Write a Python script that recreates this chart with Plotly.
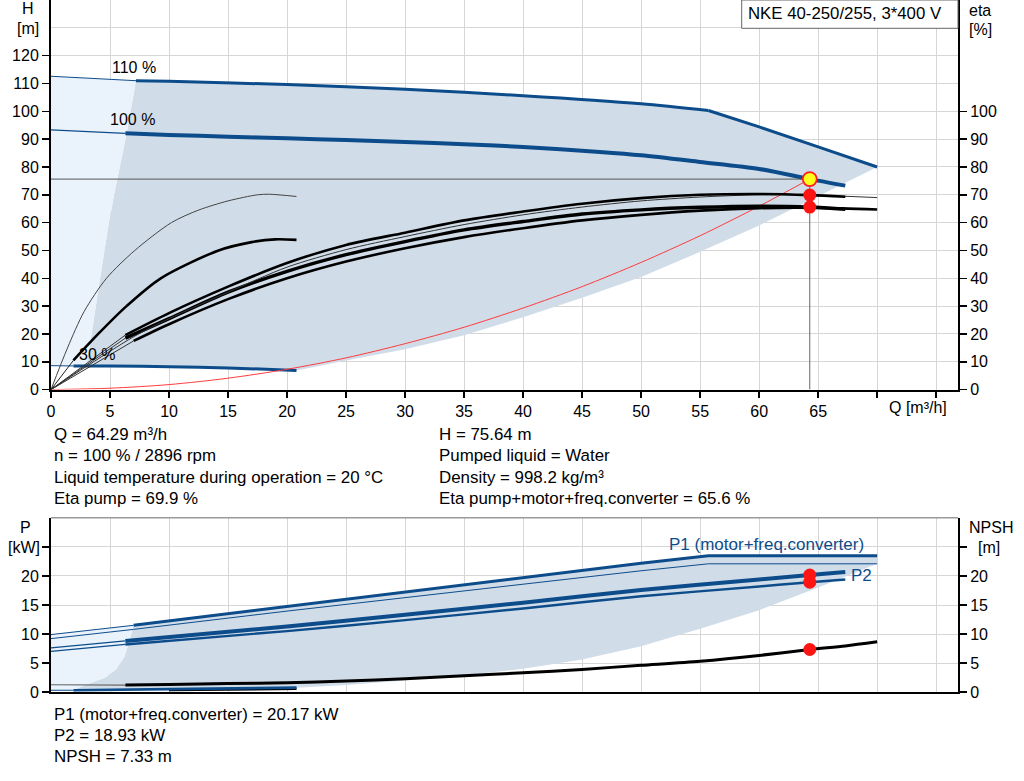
import numpy as np
import plotly.graph_objects as go

# ------------------------------------------------------------------ data
Q_TICKS = [0, 5, 10, 15, 20, 25, 30, 35, 40, 45, 50, 55, 60, 65, 70, 75]
Q_TICK_TEXT = ["0", "5", "10", "15", "20", "25", "30", "35", "40", "45", "50", "55", "60", "65", "", ""]
H_TICKS = [0, 10, 20, 30, 40, 50, 60, 70, 80, 90, 100, 110, 120]
ETA_TICKS = [0, 10, 20, 30, 40, 50, 60, 70, 80, 90, 100]
P_TICKS = [0, 5, 10, 15, 20, 25]
P_TICK_TEXT = ["0", "5", "10", "15", "20", ""]

# head curves (speed 110 %, 100 %, 30 %)
Q_110 = [0, 7.2, 10, 20, 30, 40, 50, 55.7, 60, 65, 70]
H_110 = [112.6, 111.0, 110.8, 109.6, 107.9, 105.6, 102.7, 100.3, 94.4, 87.2, 80.0]
Q_100 = [0, 6.3, 10, 15, 20, 25, 30, 35, 40, 46.5, 50, 55, 60, 64.29, 67.3]
H_100 = [93.3, 92.1, 91.5, 90.9, 90.3, 89.7, 89.0, 88.2, 87.2, 85.4, 84.2, 81.8, 79.3, 75.64, 73.3]
Q_30 = [0, 1.9, 5, 10, 15, 20.8]
H_30 = [8.6, 8.5, 8.45, 8.25, 7.8, 6.9]

# working-area boundaries (head)
LB_Q = [20.8, 25, 30, 35, 40, 45, 50, 55, 60, 65, 70]
LB_H = [6.9, 10.5, 14.5, 19.5, 26.0, 33.0, 40.5, 49.5, 59.0, 69.5, 80.0]
LD_Q = [3.0, 3.45, 3.8, 4.15, 4.5, 4.9, 5.35, 5.85, 6.45, 7.2]
LD_H = [8.47, 20, 30, 40, 50, 60, 70, 80, 93, 111.0]

# system curve
Q_SYS = [0, 5, 10, 15, 20, 25, 30, 35, 40, 45, 50, 55, 60, 64.29]
H_SYS = [0, 0.5, 1.8, 4.1, 7.3, 11.4, 16.5, 22.4, 29.3, 37.0, 45.7, 55.3, 65.9, 75.64]

# efficiency curves
Q_EA = [0, 6.3, 10, 15, 20, 25, 30, 35, 40, 45, 50, 55, 60, 64.29, 67.3]
ETA_A = [0, 19.6, 27.5, 37.0, 45.5, 52.0, 56.4, 60.8, 64.0, 66.8, 68.8, 70.0, 70.3, 69.9, 69.3]
Q_EB = [0, 7, 10, 15, 20, 25, 30, 35, 40, 45, 50, 55, 60, 64.29, 70]
ETA_B = [0, 19.0, 25.5, 35.0, 44.0, 50.3, 55.0, 59.3, 62.8, 65.6, 67.8, 69.2, 70.0, 69.9, 69.0]
Q_EC = [0, 6.3, 10, 15, 20, 25, 30, 35, 40, 45, 50, 55, 60, 64.29, 67.3]
ETA_C = [0, 18.5, 25.5, 35.0, 42.5, 48.5, 53.2, 57.4, 60.4, 63.1, 64.6, 65.5, 65.9, 65.6, 64.8]
Q_ED = [0, 7, 10, 15, 20, 25, 30, 35, 40, 45, 50, 55, 60, 65, 70]
ETA_D = [0, 17.5, 23.5, 32.5, 40.0, 46.0, 50.8, 54.8, 58.0, 60.8, 62.8, 64.3, 65.2, 65.3, 64.7]
Q_EE = [0, 1.4, 2.8, 4.7, 7.1, 10.2, 12.5, 15, 17.5, 18.5, 20.8]
ETA_E = [0, 15, 28, 40, 50, 60, 64.5, 67.8, 70.0, 70.2, 69.4]
Q_EF = [0, 1.9, 4, 6.4, 9.3, 14.2, 17, 19, 20.8]
ETA_F = [0, 10.5, 20, 30, 40, 50, 53, 54, 53.8]

# power / NPSH curves
Q_P1_110 = [0, 7.0, 20, 30, 40, 50, 55.7, 70]
P1_110 = [9.9, 11.5, 14.75, 17.25, 19.75, 22.2, 23.5, 23.5]
Q_P2_110 = [0, 7.0, 20, 30, 40, 50, 55.7, 70]
P2_110 = [9.2, 10.8, 13.95, 16.3, 18.6, 20.9, 22.1, 22.1]
Q_P100 = [0, 6.3, 20, 30, 40, 50, 60, 64.29, 67.3]
P1_100 = [7.6, 8.8, 11.3, 13.3, 15.4, 17.6, 19.4, 20.17, 20.7]
P2_100 = [7.0, 8.2, 10.5, 12.4, 14.4, 16.5, 18.2, 18.93, 19.4]
Q_P30 = [0, 1.9, 10, 20.8]
P_30 = [0.3, 0.3, 0.5, 0.75]
Q_P30B = [10, 20.8]
P_30B = [0.35, 0.55]
Q_NPSH = [0, 6.3, 10, 15, 20, 25, 30, 35, 40, 45, 50, 55, 60, 64.29, 67.3, 70]
NPSH = [1.25, 1.2, 1.3, 1.45, 1.6, 1.9, 2.3, 2.8, 3.3, 3.9, 4.6, 5.3, 6.3, 7.33, 7.95, 8.65]

# working-area boundaries (power)
LBP_Q = [20.8, 25, 30, 35, 40, 45, 50, 55, 60, 65, 70]
LBP_P = [0.75, 1.2, 2.0, 2.9, 4.0, 5.6, 7.9, 10.9, 14.1, 18.0, 22.1]
LDP_Q = [1.9, 2.5, 3.5, 4.6, 5.5, 6.2, 6.6, 7.0]
LDP_P = [0.3, 0.9, 1.6, 2.5, 3.9, 6.0, 8.5, 11.5]

# duty point
Q_DUTY = 64.29
H_DUTY = 75.64
ETA_PUMP = 69.9
ETA_TOTAL = 65.6
P1_DUTY = 20.17
P2_DUTY = 18.93
NPSH_DUTY = 7.33

INFO_LEFT = ["Q = 64.29 m³/h", "n = 100 % / 2896 rpm",
             "Liquid temperature during operation = 20 °C", "Eta pump = 69.9 %"]
INFO_RIGHT = ["H = 75.64 m", "Pumped liquid = Water", "Density = 998.2 kg/m³",
              "Eta pump+motor+freq.converter = 65.6 %"]
INFO_BOTTOM = ["P1 (motor+freq.converter) = 20.17 kW", "P2 = 18.93 kW", "NPSH = 7.33 m"]
TITLE = "NKE 40-250/255, 3*400 V"

# ------------------------------------------------------------------ style
W, H = 1024, 781
ML, MR, MT, MB = 51, 66, 0, 89
PW, PH = W - ML - MR, H - MT - MB
FONT = "Arial, 'Liberation Sans', sans-serif"
FS = 16
FS_INFO = 16.9
BLUE = "#0d4c8b"
DARK_FILL = "#d0dce8"
LIGHT_FILL = "#eaf3fc"
GRID = "#d6d6d6"
Q_RANGE = [0, 76.85]
H_RANGE = [0, 140]
P_RANGE = [0, 30.05]


def px(x):
    return (x - ML) / PW


def py(y):
    return (H - MB - y) / PH


fig = go.Figure()


def line(xs, ys, color, width, xa="x", ya="y", smooth=True):
    fig.add_trace(go.Scatter(x=xs, y=ys, mode="lines", xaxis=xa, yaxis=ya,
                             line=dict(color=color, width=width,
                                       shape="spline" if smooth else "linear",
                                       smoothing=0.8),
                             hoverinfo="skip", showlegend=False))


def fill(xs, ys, color, xa="x", ya="y"):
    fig.add_trace(go.Scatter(x=xs, y=ys, mode="lines", fill="toself", fillcolor=color,
                             line=dict(width=0, color=color), xaxis=xa, yaxis=ya,
                             hoverinfo="skip", showlegend=False))


# ---------------- top panel: areas
q30_mid = [q for q in Q_30[::-1] if LD_Q[0] < q < LB_Q[0]]
h30_mid = [H_30[Q_30.index(q)] for q in q30_mid]
dark_q = Q_110[1:] + LB_Q[::-1] + q30_mid + LD_Q
dark_h = H_110[1:] + LB_H[::-1] + h30_mid + LD_H
fill(dark_q, dark_h, DARK_FILL)

q30_low = [q for q in Q_30 if q < LD_Q[0]]
h30_low = [H_30[Q_30.index(q)] for q in q30_low]
q110_low = [q for q in Q_110[::-1] if q < LD_Q[-1]]
h110_low = [H_110[Q_110.index(q)] for q in q110_low]
fill(q30_low + LD_Q + q110_low, h30_low + LD_H + h110_low, LIGHT_FILL)

# ---------------- top panel: curves
k = Q_110.index(55.7)
line(Q_110[:2], H_110[:2], BLUE, 1, smooth=False)
line(Q_110[1:k + 1], H_110[1:k + 1], BLUE, 3)
line(Q_110[k:], H_110[k:], BLUE, 3, smooth=False)
line(Q_100[:2], H_100[:2], BLUE, 1.2, smooth=False)
line(Q_100[1:], H_100[1:], BLUE, 4)
line(Q_30[:2], H_30[:2], BLUE, 1, smooth=False)
line(Q_30[1:], H_30[1:], BLUE, 3)

line(Q_SYS, H_SYS, "#ff3b3b", 1)
line([0, Q_DUTY], [H_DUTY, H_DUTY], "#555555", 1, smooth=False)
line([Q_DUTY, Q_DUTY], [H_DUTY, 0], "#666666", 1, smooth=False)

# efficiency curves (right axis)
line(Q_EE, ETA_E, "#444444", 1, ya="y2")
line(Q_EF[:2], ETA_F[:2], "#222222", 1, ya="y2", smooth=False)
line(Q_EF[1:], ETA_F[1:], "black", 2.6, ya="y2")
line(Q_ED[:2], ETA_D[:2], "#333333", 1, ya="y2", smooth=False)
line(Q_ED[1:], ETA_D[1:], "black", 2.6, ya="y2")
line(Q_EC[:2], ETA_C[:2], "#333333", 1, ya="y2", smooth=False)
line(Q_EC[1:], ETA_C[1:], "black", 3.4, ya="y2")
line(Q_EB, ETA_B, "#333333", 1, ya="y2")
line(Q_EA[:2], ETA_A[:2], "#333333", 1, ya="y2", smooth=False)
line(Q_EA[1:], ETA_A[1:], "black", 2.6, ya="y2")

# duty point markers
fig.add_trace(go.Scatter(x=[Q_DUTY, Q_DUTY], y=[ETA_PUMP, ETA_TOTAL], mode="markers",
                         xaxis="x", yaxis="y2", hoverinfo="skip", showlegend=False,
                         marker=dict(size=13, color="#ff1414", line=dict(width=0))))
fig.add_trace(go.Scatter(x=[Q_DUTY], y=[H_DUTY], mode="markers", xaxis="x", yaxis="y",
                         hoverinfo="skip", showlegend=False,
                         marker=dict(size=14, color="#ffff1e",
                                     line=dict(width=1.8, color="#ff2020"))))

# ---------------- bottom panel: areas
qp30_mid = [q for q in Q_P30[::-1] if LDP_Q[0] < q < LBP_Q[0]]
pp30_mid = [P_30[Q_P30.index(q)] for q in qp30_mid]
dq = Q_P1_110[1:] + [Q_P2_110[-1]] + LBP_Q[::-1][1:] + qp30_mid + LDP_Q
dp = P1_110[1:] + [P2_110[-1]] + LBP_P[::-1][1:] + pp30_mid + LDP_P
fill(dq, dp, DARK_FILL, "x2", "y3")
qp30_low = [q for q in Q_P30 if q < LDP_Q[0]]
pp30_low = [P_30[Q_P30.index(q)] for q in qp30_low]
qp110_low = [q for q in Q_P1_110[::-1] if q < LDP_Q[-1]]
pp110_low = [P1_110[Q_P1_110.index(q)] for q in qp110_low]
fill(qp30_low + LDP_Q + qp110_low, pp30_low + LDP_P + pp110_low, LIGHT_FILL, "x2", "y3")

# ---------------- bottom panel: curves
line(Q_P1_110[:2], P1_110[:2], BLUE, 1, "x2", "y3", smooth=False)
line(Q_P1_110[1:], P1_110[1:], BLUE, 3, "x2", "y3", smooth=False)
line(Q_P2_110, P2_110, BLUE, 1, "x2", "y3", smooth=False)
line(Q_P100[:2], P1_100[:2], BLUE, 1.2, "x2", "y3", smooth=False)
line(Q_P100[1:], P1_100[1:], BLUE, 4, "x2", "y3")
line(Q_P100[:2], P2_100[:2], BLUE, 1.2, "x2", "y3", smooth=False)
line(Q_P100[1:], P2_100[1:], BLUE, 2.4, "x2", "y3")
line(Q_P30B, P_30B, "black", 2.6, "x2", "y3", smooth=False)
line(Q_P30[:2], P_30[:2], BLUE, 1, "x2", "y3", smooth=False)
line(Q_P30[1:], P_30[1:], BLUE, 2.6, "x2", "y3")
line(Q_NPSH[:2], NPSH[:2], "#666666", 1.2, "x2", "y4", smooth=False)
line(Q_NPSH[1:], NPSH[1:], "black", 3, "x2", "y4")

fig.add_trace(go.Scatter(x=[Q_DUTY, Q_DUTY], y=[P1_DUTY, P2_DUTY], mode="markers",
                         xaxis="x2", yaxis="y3", hoverinfo="skip", showlegend=False,
                         marker=dict(size=13, color="#ff1414", line=dict(width=0))))
fig.add_trace(go.Scatter(x=[Q_DUTY], y=[NPSH_DUTY], mode="markers",
                         xaxis="x2", yaxis="y4", hoverinfo="skip", showlegend=False,
                         marker=dict(size=13, color="#ff1414", line=dict(width=0))))

# ------------------------------------------------------------------ axes
top_dom = [py(389.6), 1.0]
bot_dom = [0.0, py(517.7)]
tick_font = dict(family=FONT, size=FS, color="black")
common_x = dict(range=Q_RANGE, tickvals=Q_TICKS, showgrid=True, gridcolor=GRID,
                gridwidth=1, zeroline=False, showline=True, linecolor="black",
                linewidth=2, tickfont=tick_font, fixedrange=True)
common_y = dict(showgrid=True, gridcolor=GRID, gridwidth=1, zeroline=False, showline=True,
                linecolor="black", linewidth=2, ticks="outside", ticklen=7, tickwidth=1.5,
                tickcolor="black", tickfont=tick_font, fixedrange=True)

fig.update_layout(
    width=W, height=H,
    margin=dict(l=ML, r=MR, t=MT, b=MB, pad=0),
    paper_bgcolor="white", plot_bgcolor="white",
    font=dict(family=FONT, size=FS, color="black"),
    showlegend=False, hovermode=False,
    xaxis=dict(common_x, domain=[0, 1], anchor="y", ticktext=Q_TICK_TEXT,
               ticks="outside", ticklen=6, tickwidth=1.5, tickcolor="black"),
    yaxis=dict(common_y, domain=top_dom, anchor="x", range=H_RANGE, tickvals=H_TICKS,
               minor=dict(tickvals=[130], showgrid=True, gridcolor=GRID, ticks="")),
    yaxis2=dict(common_y, overlaying="y", side="right", anchor="x", range=H_RANGE,
                tickvals=ETA_TICKS, showgrid=False),
    xaxis2=dict(common_x, domain=[0, 1], anchor="y3", showticklabels=False, ticks=""),
    yaxis3=dict(common_y, domain=bot_dom, anchor="x2", range=P_RANGE, tickvals=P_TICKS,
                ticktext=P_TICK_TEXT),
    yaxis4=dict(common_y, overlaying="y3", side="right", anchor="x2", range=P_RANGE,
                tickvals=P_TICKS, ticktext=P_TICK_TEXT, showgrid=False),
)

# top border of the lower panel and the type-label box
fig.add_shape(type="line", xref="paper", yref="paper", x0=0, x1=1, y0=bot_dom[1],
              y1=bot_dom[1], line=dict(color="#9a9a9a", width=1.5))
fig.add_shape(type="rect", xref="paper", yref="paper", x0=px(741.7), x1=1.0,
              y0=py(28.3), y1=1.0, fillcolor="white",
              line=dict(color="#666666", width=1), layer="above")

ann = []


def text(x, y, s, anchor="left", color="black", xref="paper", yref="paper", size=FS):
    ann.append(dict(x=x, y=y, xref=xref, yref=yref, text=s, showarrow=False,
                    xanchor=anchor, yanchor="middle",
                    font=dict(family=FONT, size=size, color=color)))


text(px(746), py(13.5), TITLE, size=16.8)
text(px(28), py(9), "H", "center")
text(px(28), py(29), "[m]", "center")
text(px(980), py(10), "eta", "center")
text(px(981), py(30), "[%]", "center")
text(px(25), py(527), "P", "center")
text(px(24), py(547), "[kW]", "center")
text(px(991), py(527), "NPSH", "center")
text(px(989), py(547), "[m]", "center")
text(px(918), py(407), "Q [m³/h]", "center")

text(5.0, 115.8, "110 %", xref="x", yref="y")
text(4.8, 97.2, "100 %", xref="x", yref="y")
text(2.2, 12.6, "30 %", xref="x", yref="y")
text(52.2, 25.5, "P1 (motor+freq.converter)", color=BLUE, xref="x2", yref="y3", size=17)
text(67.6, 20.0, "P2", color=BLUE, xref="x2", yref="y3", size=17)

for i, s in enumerate(INFO_LEFT):
    text(px(52), py(434.5 + 21.3 * i), s, size=FS_INFO)
for i, s in enumerate(INFO_RIGHT):
    text(px(437), py(434.5 + 21.3 * i), s, size=FS_INFO)
for i, s in enumerate(INFO_BOTTOM):
    text(px(52), py(714 + 21.2 * i), s, size=FS_INFO)

fig.update_layout(annotations=ann)

fig.write_html("out.html", config={"displayModeBar": False, "staticPlot": True},
               post_script="document.body.style.margin='0';document.body.style.overflow='hidden';")
